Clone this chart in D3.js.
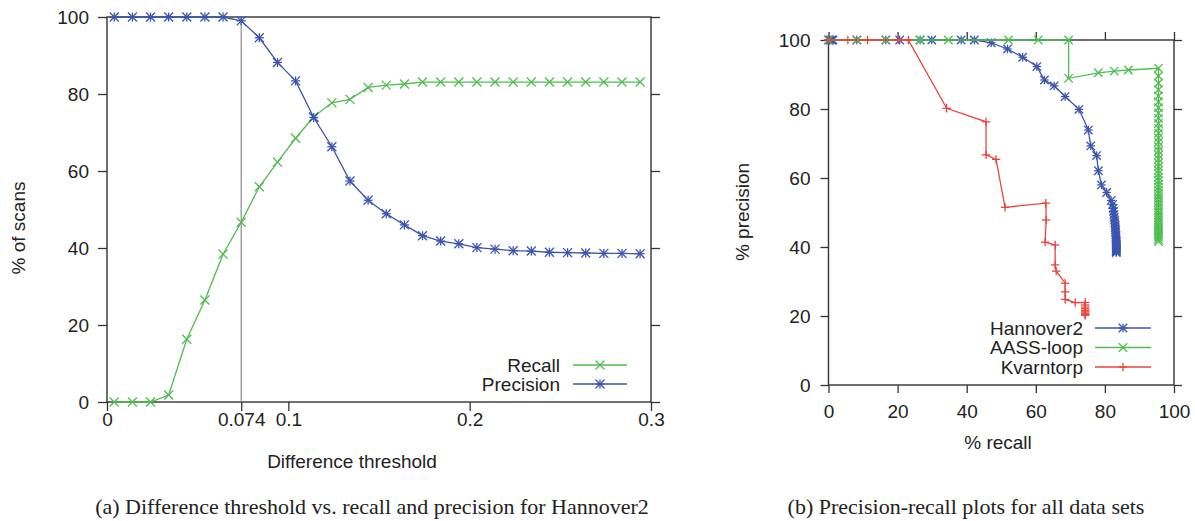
<!DOCTYPE html>
<html>
<head>
<meta charset="utf-8">
<script src="https://cdn.jsdelivr.net/npm/d3@7/dist/d3.min.js"></script>
<style>
  html, body { margin: 0; padding: 0; background: #fff; }
  svg text { font-family: "Liberation Sans", Arial, sans-serif; fill: #222; }
  .caption { font-family: "Liberation Serif", "Times New Roman", serif; }
</style>
</head>
<body>
<svg id="fig" width="1195" height="521"></svg>
<script>
// ---------- (a) threshold sweep for Hannover2 ----------
const thresholds = [0.004, 0.014, 0.024, 0.034, 0.044, 0.054, 0.064, 0.074, 0.084, 0.094,
                    0.104, 0.114, 0.124, 0.134, 0.144, 0.154, 0.164, 0.174, 0.184, 0.194,
                    0.204, 0.214, 0.224, 0.234, 0.244, 0.254, 0.264, 0.274, 0.284, 0.294];
const recallPct = [0, 0, 0, 1.8, 16.3, 26.5, 38.4, 46.7, 55.9, 62.3,
                   68.5, 74.1, 77.7, 78.6, 81.7, 82.3, 82.6, 83.1, 83.1, 83.1,
                   83.1, 83.1, 83.1, 83.1, 83.1, 83.1, 83.1, 83.1, 83.1, 83.1];
const precisionPct = [100, 100, 100, 100, 100, 100, 100, 99.0, 94.6, 88.2,
                      83.4, 73.9, 66.3, 57.4, 52.4, 48.9, 46.0, 43.2, 41.8, 41.1,
                      40.1, 39.7, 39.3, 39.2, 38.9, 38.8, 38.7, 38.6, 38.6, 38.5];
const chosenThreshold = 0.074;
const xTicksA = [0, 0.074, 0.1, 0.2, 0.3];
const xTickLabelsA = ["0", "0.074", "0.1", "0.2", "0.3"];
const yTicksPct = [0, 20, 40, 60, 80, 100];

// ---------- (b) precision-recall curves ----------
const hannoverRecall = [0, 0.4, 0.9, 1.3, 8.2, 16.6, 20.6, 26.5, 29.9, 38.4, 42.2,
  47.1, 51.8, 56.2, 60.3, 62.5, 65.3, 68.5, 72.5, 75.2, 75.9, 77.6, 78.1, 79.0, 80.5, 81.8,
  82.2, 82.4, 82.5, 82.6, 82.7, 82.8, 82.9, 83.0, 83.0, 83.1, 83.1, 83.2, 83.2, 83.2, 83.3,
  83.3, 83.3, 83.3, 83.3, 83.3, 83.3, 83.3, 83.3, 83.3, 83.3];
const hannoverPrecision = [100, 100, 100, 100, 100, 100, 100, 100, 100, 100, 100,
  99.2, 97.4, 95.0, 92.3, 88.4, 86.7, 83.6, 79.9, 73.9, 69.3, 66.5, 62.1, 58.0, 55.8, 53.5,
  52.3, 51.2, 50.3, 49.4, 48.6, 47.8, 47.0, 46.3, 45.6, 44.9, 44.2, 43.5, 42.9, 42.3, 41.8,
  41.3, 40.8, 40.4, 40.0, 39.6, 39.3, 39.0, 38.8, 38.6, 38.4];

const aassRecall = [0, 8.2, 16.6, 26.5, 34.7, 52.1, 60.7, 69.5, 69.5, 78.1, 82.7, 86.8,
  95.5, 95.5, 95.5, 95.5, 95.5, 95.5, 95.5, 95.5, 95.5, 95.5, 95.5, 95.5, 95.5, 95.5, 95.5,
  95.5, 95.5, 95.5, 95.5, 95.5, 95.5, 95.5, 95.5, 95.5, 95.5, 95.5, 95.5, 95.5, 95.5, 95.5,
  95.5, 95.5, 95.5, 95.5, 95.5, 95.5, 95.5, 95.5, 95.5, 95.5, 95.5, 95.5, 95.5, 95.5, 95.5,
  95.5, 95.5, 95.5];
const aassPrecision = [100, 100, 100, 100, 100, 100, 100, 100, 88.9, 90.5, 91.0, 91.3,
  91.8, 89.6, 87.5, 85.6, 83.8, 82.1, 80.4, 78.8, 77.3, 75.8, 74.4, 73.0, 71.7, 70.4, 69.1,
  67.9, 66.7, 65.5, 64.4, 63.3, 62.2, 61.2, 60.2, 59.2, 58.2, 57.3, 56.4, 55.5, 54.6, 53.8,
  53.0, 52.2, 51.4, 50.6, 49.9, 49.2, 48.5, 47.8, 47.1, 46.4, 45.8, 45.2, 44.6, 44.0, 43.4,
  42.8, 42.2, 41.6];

const kvarnRecall = [0, 5.6, 11.3, 20.3, 23.1, 34.2, 45.6, 45.6, 48.5, 51.1, 62.9, 63.0,
  62.7, 65.6, 65.6, 65.9, 68.5, 68.5, 68.5, 71.4, 74.3, 74.3, 74.3, 74.3, 74.3, 74.3,
  74.3, 74.3, 74.3];
const kvarnPrecision = [100, 100, 100, 100, 100, 80.2, 76.3, 66.7, 65.4, 51.5, 52.7, 47.8,
  41.4, 40.6, 34.8, 33.0, 29.5, 27.0, 24.8, 23.9, 23.9, 23.2, 22.6, 22.1, 21.6, 21.2,
  20.8, 20.5, 20.2];
const xTicksB = [0, 20, 40, 60, 80, 100];

const colors = { blue: "#3b55ad", green: "#4fbd4f", red: "#e8453c" };

const svg = d3.select("#fig");
svg.append("rect").attr("width", 1195).attr("height", 521).attr("fill", "#fff");

// marker shapes in gnuplot style: "+" , "x" and "*"
function marker(g, kind, x, y, r, color) {
  const segs = [];
  if (kind === "plus" || kind === "star") {
    segs.push([x - r, y, x + r, y], [x, y - r, x, y + r]);
  }
  if (kind === "cross" || kind === "star") {
    segs.push([x - r, y - r, x + r, y + r], [x - r, y + r, x + r, y - r]);
  }
  segs.forEach(s => g.append("line")
    .attr("x1", s[0]).attr("y1", s[1]).attr("x2", s[2]).attr("y2", s[3])
    .attr("stroke", color).attr("stroke-width", 1.3));
}

function series(g, xs, ys, xScale, yScale, kind, color, r) {
  const pts = xs.map((v, i) => [xScale(v), yScale(ys[i])]);
  g.append("path").attr("d", d3.line()(pts))
    .attr("fill", "none").attr("stroke", color).attr("stroke-width", 1.3);
  const mg = g.append("g");
  pts.forEach(p => marker(mg, kind, p[0], p[1], r, color));
}

function frame(g, x, y, tickLen, opts) {
  const [x0, x1] = x.range();
  const [y0, y1] = y.range();
  const ax = (sel) => {
    sel.selectAll(".domain").remove();
    sel.selectAll(".tick line").attr("stroke", "#333").attr("stroke-width", 1.3);
    sel.selectAll(".tick text").attr("font-size", 19).attr("fill", "#222");
  };
  g.append("g").attr("transform", `translate(${x0},0)`)
    .call(d3.axisLeft(y).tickValues(yTicksPct).tickSize(tickLen).tickPadding(opts.yPad))
    .call(ax);
  g.append("g").attr("transform", `translate(${x1},0)`)
    .call(d3.axisRight(y).tickValues(yTicksPct).tickSize(tickLen).tickFormat(""))
    .call(ax);
  g.append("g").attr("transform", `translate(0,${y0})`)
    .call(d3.axisBottom(x).tickValues(opts.xTicks).tickSize(tickLen).tickPadding(opts.xPad)
      .tickFormat((d, i) => opts.xLabels[i]))
    .call(ax);
  if (opts.topTicks) {
    g.append("g").attr("transform", `translate(0,${y1})`)
      .call(d3.axisTop(x).tickValues(opts.xTicks).tickSize(tickLen).tickFormat(""))
      .call(ax);
  }
  g.append("rect").attr("x", x0).attr("y", y1).attr("width", x1 - x0).attr("height", y0 - y1)
    .attr("fill", "none").attr("stroke", "#333").attr("stroke-width", 1.4);
}

function legend(g, items, xText, y0, dy, lineX0, lineX1, r) {
  items.forEach((it, i) => {
    const y = y0 + i * dy;
    g.append("text").attr("x", xText).attr("y", y).attr("dy", "0.35em")
      .attr("text-anchor", "end").attr("font-size", 19).text(it.label);
    g.append("line").attr("x1", lineX0).attr("x2", lineX1).attr("y1", y).attr("y2", y)
      .attr("stroke", it.color).attr("stroke-width", 1.3);
    marker(g, it.kind, (lineX0 + lineX1) / 2, y, r, it.color);
  });
}

// ---------- panel (a) ----------
{
  const g = svg.append("g");
  const x = d3.scaleLinear().domain([0, 0.3]).range([107, 651]);
  const y = d3.scaleLinear().domain([0, 100]).range([402, 17]);

  frame(g, x, y, 9, { xTicks: xTicksA, xLabels: xTickLabelsA, xPad: 2, yPad: 9, topTicks: false });

  g.append("line").attr("x1", x(chosenThreshold)).attr("x2", x(chosenThreshold))
    .attr("y1", y(0)).attr("y2", y(100)).attr("stroke", "#8a8a8a").attr("stroke-width", 1.2);

  series(g, thresholds, recallPct, x, y, "cross", colors.green, 4.5);
  series(g, thresholds, precisionPct, x, y, "star", colors.blue, 4.5);

  legend(g, [
    { label: "Recall", color: colors.green, kind: "cross" },
    { label: "Precision", color: colors.blue, kind: "star" }
  ], 560, 365, 19, 573, 627, 4.5);

  g.append("text").attr("x", 352).attr("y", 461).attr("dy", "0.35em")
    .attr("text-anchor", "middle").attr("font-size", 19).text("Difference threshold");
  g.append("text").attr("transform", "translate(18,228) rotate(-90)").attr("dy", "0.35em")
    .attr("text-anchor", "middle").attr("font-size", 19).text("% of scans");
  g.append("text").attr("class", "caption").attr("x", 372).attr("y", 514)
    .attr("text-anchor", "middle").attr("font-size", 22)
    .text("(a) Difference threshold vs. recall and precision for Hannover2");
}

// ---------- panel (b) ----------
{
  const g = svg.append("g");
  const x = d3.scaleLinear().domain([0, 100]).range([828.5, 1174]);
  const y = d3.scaleLinear().domain([0, 100]).range([385, 40]);

  frame(g, x, y, 8, { xTicks: xTicksB, xLabels: xTicksB.map(String), xPad: 12, yPad: 10, topTicks: true });

  series(g, hannoverRecall, hannoverPrecision, x, y, "star", colors.blue, 4.2);
  series(g, aassRecall, aassPrecision, x, y, "cross", colors.green, 4.2);
  series(g, kvarnRecall, kvarnPrecision, x, y, "plus", colors.red, 4.2);

  legend(g, [
    { label: "Hannover2", color: colors.blue, kind: "star" },
    { label: "AASS-loop", color: colors.green, kind: "cross" },
    { label: "Kvarntorp", color: colors.red, kind: "plus" }
  ], 1083, 328, 19.5, 1095, 1151, 4.2);

  g.append("text").attr("x", 998).attr("y", 442).attr("dy", "0.35em")
    .attr("text-anchor", "middle").attr("font-size", 19).text("% recall");
  g.append("text").attr("transform", "translate(742,212) rotate(-90)").attr("dy", "0.35em")
    .attr("text-anchor", "middle").attr("font-size", 19).text("% precision");
  g.append("text").attr("class", "caption").attr("x", 966).attr("y", 514)
    .attr("text-anchor", "middle").attr("font-size", 22)
    .text("(b) Precision-recall plots for all data sets");
}
</script>
</body>
</html>
